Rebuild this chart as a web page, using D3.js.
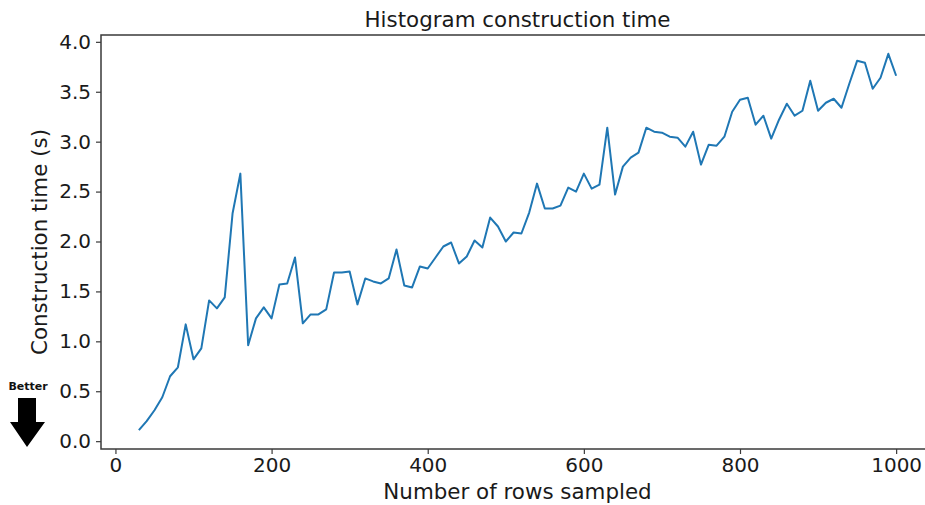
<!DOCTYPE html>
<html>
<head>
<meta charset="utf-8">
<script src="https://cdn.jsdelivr.net/npm/d3@7"></script>
<style>
  html, body { margin: 0; padding: 0; background: #fff; }
  svg { display: block; font-family: "DejaVu Sans", sans-serif; }
</style>
</head>
<body>
<svg id="chart" width="925" height="505"></svg>
<script>
// Rows sampled (x) and histogram construction time in seconds (y)
const rowsSampled = [
  30, 40, 50, 60, 70, 80, 90, 100, 110, 120, 130, 140, 150, 160, 170, 180, 190, 200,
  210, 220, 230, 240, 250, 260, 270, 280, 290, 300, 310, 320, 330, 340, 350, 360,
  370, 380, 390, 400, 410, 420, 430, 440, 450, 460, 470, 480, 490, 500, 510, 520,
  530, 540, 550, 560, 570, 580, 590, 600, 610, 620, 630, 640, 650, 660, 670, 680,
  690, 700, 710, 720, 730, 740, 750, 760, 770, 780, 790, 800, 810, 820, 830, 840,
  850, 860, 870, 880, 890, 900, 910, 920, 930, 940, 950, 960, 970, 980, 990, 1000
];
const constructionTime = [
  0.11, 0.20, 0.31, 0.44, 0.65, 0.74, 1.17, 0.82, 0.93, 1.41, 1.33, 1.44, 2.28, 2.68, 0.96, 1.23, 1.34, 1.23,
  1.57, 1.58, 1.84, 1.18, 1.27, 1.27, 1.32, 1.69, 1.69, 1.70, 1.37, 1.63, 1.60, 1.58, 1.63, 1.92,
  1.56, 1.54, 1.75, 1.73, 1.84, 1.95, 1.99, 1.78, 1.85, 2.01, 1.94, 2.24, 2.15, 2.00, 2.09, 2.08,
  2.29, 2.58, 2.33, 2.33, 2.36, 2.54, 2.50, 2.68, 2.53, 2.57, 3.14, 2.47, 2.75, 2.84, 2.89, 3.14,
  3.10, 3.09, 3.05, 3.04, 2.95, 3.10, 2.77, 2.97, 2.96, 3.05, 3.30, 3.42, 3.44, 3.17, 3.26, 3.03,
  3.22, 3.38, 3.26, 3.31, 3.61, 3.31, 3.39, 3.43, 3.34, 3.58, 3.81, 3.79, 3.53, 3.64, 3.88, 3.66
];
const xTicks = [0, 200, 400, 600, 800, 1000];
const yTicks = [0.0, 0.5, 1.0, 1.5, 2.0, 2.5, 3.0, 3.5, 4.0];

const titleText = "Histogram construction time";
const xLabelText = "Number of rows sampled";
const yLabelText = "Construction time (s)";
const hintText = "Better";

const svg = d3.select("#chart");
const plot = { left: 101, right: 934, top: 35, bottom: 449 };

// Axis limits padded 5% around the data range
const xMin = d3.min(rowsSampled), xMax = d3.max(rowsSampled);
const yMin = d3.min(constructionTime), yMax = d3.max(constructionTime);
const xPad = (xMax - xMin) * 0.05, yPad = (yMax - yMin) * 0.05;

const x = d3.scaleLinear().domain([xMin - xPad, xMax + xPad]).range([plot.left, plot.right]);
const y = d3.scaleLinear().domain([yMin - yPad, yMax + yPad]).range([plot.bottom, plot.top]);

const spineColor = "#3a3a3a";
const textColor = "#1a1a1a";
const tickFont = "20px";
const labelFont = "21.4px";

// Data line
const line = d3.line()
  .x((d, i) => x(rowsSampled[i]))
  .y(d => y(d));

svg.append("path")
  .datum(constructionTime)
  .attr("fill", "none")
  .attr("stroke", "#1f77b4")
  .attr("stroke-width", 2)
  .attr("stroke-linejoin", "round")
  .attr("d", line);

// Frame (right edge falls outside the viewport)
svg.append("rect")
  .attr("x", plot.left).attr("y", plot.top)
  .attr("width", plot.right - plot.left).attr("height", plot.bottom - plot.top)
  .attr("fill", "none").attr("stroke", spineColor).attr("stroke-width", 1.5);

// Axes
const xAxis = d3.axisBottom(x).tickValues(xTicks).tickFormat(d3.format("d")).tickSize(5).tickPadding(4);
const yAxis = d3.axisLeft(y).tickValues(yTicks).tickFormat(d3.format(".1f")).tickSize(5).tickPadding(5);

const gx = svg.append("g").attr("transform", `translate(0,${plot.bottom})`).call(xAxis);
const gy = svg.append("g").attr("transform", `translate(${plot.left},0)`).call(yAxis);

[gx, gy].forEach(g => {
  g.select(".domain").remove();
  g.selectAll(".tick line").attr("stroke", spineColor).attr("stroke-width", 1.2);
  g.selectAll(".tick text")
    .attr("fill", textColor)
    .style("font-family", "'DejaVu Sans', sans-serif")
    .style("font-size", tickFont);
});

// Title and axis labels
svg.append("text")
  .attr("x", (plot.left + plot.right) / 2).attr("y", 27)
  .attr("text-anchor", "middle").attr("fill", textColor)
  .style("font-size", labelFont)
  .text(titleText);

svg.append("text")
  .attr("x", (plot.left + plot.right) / 2).attr("y", 499)
  .attr("text-anchor", "middle").attr("fill", textColor)
  .style("font-size", labelFont)
  .text(xLabelText);

svg.append("text")
  .attr("transform", `translate(47,${(plot.top + plot.bottom) / 2}) rotate(-90)`)
  .attr("text-anchor", "middle").attr("fill", textColor)
  .style("font-size", labelFont)
  .text(yLabelText);

// "Better" hint with a downward arrow
svg.append("text")
  .attr("x", 28).attr("y", 390)
  .attr("text-anchor", "middle").attr("fill", "#111")
  .style("font-size", "11px").style("font-weight", "bold")
  .text(hintText);

svg.append("path")
  .attr("d", "M18,398 L36,398 L36,422 L45,422 L27,447 L10,422 L18,422 Z")
  .attr("fill", "#000");
</script>
</body>
</html>
